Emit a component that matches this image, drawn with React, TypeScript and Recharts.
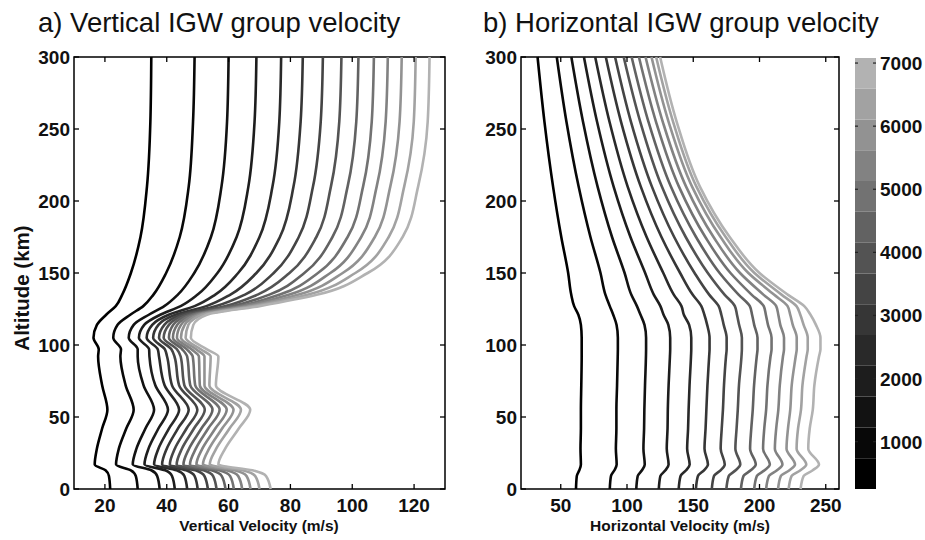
import React from "react";
import { LineChart, Line, XAxis, YAxis, BarChart, Bar, ReferenceArea } from "recharts";

const FONT = "'Liberation Sans', Arial, Helvetica, sans-serif";

// altitude levels (km) shared by every profile
const altitudes = [0, 9, 13, 17, 28, 42, 55, 72, 92, 97, 105, 114, 121, 127, 135, 150, 175, 210, 255, 300];

// a) vertical group velocity (m/s), darkest band first
const vz01 = [21.7, 21.3, 20.2, 16.7, 17.4, 19.1, 20.8, 19.1, 17.8, 18.0, 16.3, 17.4, 20.4, 23.5, 25.6, 28.4, 31.5, 33.6, 34.7, 35];
const vz02 = [30.6, 30.0, 28.4, 23.6, 24.5, 26.9, 29.3, 26.7, 25.0, 25.2, 22.7, 24.1, 28.2, 32.4, 35.7, 39.8, 44.2, 47.1, 48.5, 49];
const vz03 = [37.7, 36.9, 35.0, 29.0, 30.2, 33.1, 35.9, 32.5, 30.6, 30.6, 27.7, 29.3, 34.2, 39.2, 43.6, 48.9, 54.3, 57.7, 59.5, 60];
const vz04 = [42.6, 41.7, 39.5, 32.8, 34.1, 37.3, 40.4, 36.3, 34.4, 34.3, 31.0, 32.7, 37.9, 44.5, 50.0, 56.4, 62.6, 66.4, 68.4, 69];
const vz05 = [46.6, 45.7, 43.2, 35.9, 37.3, 40.7, 44.0, 39.3, 37.5, 37.1, 33.5, 35.3, 40.6, 49.0, 55.7, 63.1, 70.0, 74.2, 76.4, 77];
const vz06 = [50.0, 49.0, 46.3, 38.5, 40.0, 43.6, 47.1, 41.7, 40.1, 39.4, 35.6, 37.3, 42.8, 52.8, 60.6, 69.0, 76.6, 81.0, 83.3, 84];
const vz07 = [53.3, 52.2, 49.3, 41.0, 42.6, 46.4, 49.9, 44.0, 42.5, 41.5, 37.5, 39.2, 44.7, 56.0, 65.3, 74.6, 82.7, 87.3, 89.8, 90.5];
const vz08 = [56.1, 55.0, 51.9, 43.2, 44.9, 48.8, 52.3, 45.7, 44.5, 43.3, 39.0, 40.7, 46.1, 59.0, 69.4, 79.7, 88.4, 93.1, 95.8, 96.5];
const vz09 = [59.0, 57.8, 54.5, 45.4, 47.2, 51.2, 54.8, 47.6, 46.6, 45.0, 40.7, 42.1, 47.5, 61.4, 73.2, 84.5, 93.6, 98.5, 101.3, 102];
const vz10 = [61.7, 60.5, 56.9, 47.5, 49.4, 53.4, 57.1, 49.2, 48.4, 46.5, 42.0, 43.4, 48.6, 63.6, 76.6, 88.9, 98.5, 103.5, 106.3, 107];
const vz11 = [64.4, 63.1, 59.4, 49.6, 51.5, 55.7, 59.4, 50.7, 50.4, 48.0, 43.3, 44.6, 49.7, 65.2, 79.7, 92.9, 102.9, 107.9, 110.8, 111.5];
const vz12 = [67.1, 65.8, 61.9, 51.7, 53.7, 57.9, 61.6, 52.2, 52.2, 49.5, 44.6, 45.8, 50.6, 66.9, 82.7, 96.9, 107.3, 112.3, 115.3, 116];
const vz13 = [70.0, 68.6, 64.5, 53.9, 56.0, 60.3, 64.0, 53.8, 54.2, 51.0, 46.1, 47.0, 51.6, 68.4, 85.8, 101.0, 111.8, 116.8, 119.9, 120.5];
const vz14 = [73.6, 72.1, 67.7, 56.7, 58.9, 63.3, 67.0, 55.9, 56.7, 53.0, 47.8, 48.6, 53.0, 70.0, 88.8, 105.0, 116.3, 121.3, 124.4, 125];

// b) horizontal group velocity (m/s)
const vh01 = [61.5, 62.1, 64.0, 65.2, 64.9, 65.2, 65.2, 65.5, 65.8, 65.8, 65.8, 65.2, 63.3, 60.1, 57.9, 55.6, 50.4, 44.2, 37.7, 32.5];
const vh02 = [87, 87.9, 90.5, 92.2, 91.6, 92.0, 92.0, 92.5, 93.0, 93.1, 93.1, 92.1, 89.6, 87.0, 83.7, 80.0, 72.4, 63.5, 54.3, 47];
const vh03 = [107, 108.1, 111.3, 113.4, 112.4, 112.9, 113.1, 113.6, 114.3, 114.4, 114.4, 113.2, 110.2, 107.5, 103.2, 98.2, 88.7, 77.8, 66.8, 58];
const vh04 = [124, 125.2, 129.0, 131.4, 130.0, 130.6, 130.8, 131.4, 132.4, 132.6, 132.6, 131.2, 127.6, 125.2, 120.2, 113.7, 102.6, 89.9, 77.4, 67.5];
const vh05 = [139, 140.4, 144.6, 147.3, 145.4, 146.1, 146.5, 147.2, 148.3, 148.5, 148.5, 146.9, 142.9, 141.1, 135.3, 127.4, 114.8, 100.5, 86.8, 76];
const vh06 = [152, 153.5, 158.1, 161.1, 158.5, 159.3, 159.9, 160.7, 162.0, 162.3, 162.3, 160.5, 158.4, 156.1, 149.5, 140.1, 126.0, 110.4, 95.5, 84];
const vh07 = [164, 165.6, 170.6, 173.8, 170.7, 171.5, 172.4, 173.2, 174.7, 175.2, 175.2, 173.0, 171.2, 169.2, 162.0, 151.0, 135.6, 118.8, 103.0, 91];
const vh08 = [175, 176.8, 182.0, 185.5, 181.8, 182.7, 183.6, 184.5, 186.4, 186.7, 186.7, 184.6, 183.0, 181.4, 173.6, 161.0, 144.3, 126.3, 110.0, 97.5];
const vh09 = [186, 187.9, 193.4, 197.2, 192.9, 193.8, 194.9, 195.9, 197.9, 198.5, 198.5, 196.0, 194.4, 192.7, 184.2, 169.9, 152.1, 133.1, 116.2, 103.5];
const vh10 = [196, 198.0, 203.8, 207.8, 202.7, 203.6, 205.0, 206.0, 208.3, 209.1, 209.1, 206.4, 204.8, 203.2, 194.0, 178.1, 159.1, 139.2, 121.9, 109];
const vh11 = [205, 207.1, 213.2, 217.3, 211.6, 212.6, 214.2, 215.3, 217.7, 218.5, 218.5, 215.7, 214.2, 212.6, 202.9, 185.3, 165.3, 144.6, 127.0, 114];
const vh12 = [214, 216.1, 222.6, 226.8, 220.4, 221.5, 223.2, 224.3, 227.3, 228.1, 228.1, 225.1, 223.2, 221.2, 210.9, 191.6, 170.6, 149.1, 131.4, 118.5];
const vh13 = [222, 224.2, 230.9, 235.3, 228.0, 229.1, 231.3, 232.4, 235.5, 236.4, 236.4, 233.3, 230.8, 227.9, 216.6, 196.2, 174.5, 152.4, 134.8, 122];
const vh14 = [231, 233.3, 240.2, 244.9, 236.8, 237.9, 240.2, 241.4, 244.9, 246.0, 246.0, 242.6, 238.5, 233.8, 221.3, 200.0, 177.5, 155.0, 137.5, 125];

const verticalProfiles = [vz01, vz02, vz03, vz04, vz05, vz06, vz07, vz08, vz09, vz10, vz11, vz12, vz13, vz14];
const horizontalProfiles = [vh01, vh02, vh03, vh04, vh05, vh06, vh07, vh08, vh09, vh10, vh11, vh12, vh13, vh14];

// colorbar: band heights (bottom band starts below the visible range) and colours
const colorbarBands = [738, 488, 488, 488, 488, 488, 488, 488, 488, 488, 488, 488, 488, 488];
const bandColors = [
  "#000000", "#080808", "#121212", "#1d1d1d", "#292929", "#363636", "#444444",
  "#535353", "#626262", "#727272", "#828282", "#929292", "#a2a2a2", "#b2b2b2",
];
const colorbarTicks = [1000, 2000, 3000, 4000, 5000, 6000, 7000];

const altTicks = [0, 50, 100, 150, 200, 250, 300];
const vTicks = [20, 40, 60, 80, 100, 120];
const hTicks = [50, 100, 150, 200, 250];

const toRows = (profiles: number[][]) =>
  altitudes.map((alt, i) => {
    const row: Record<string, number> = { alt };
    profiles.forEach((p, k) => {
      row[`c${k}`] = p[i];
    });
    return row;
  });

const verticalRows = toRows(verticalProfiles);
const horizontalRows = toRows(horizontalProfiles);

// ticks drawn inside the frame, matlab style
const BottomTick = (props: any) => {
  const { x, y, payload } = props;
  return (
    <g>
      <line x1={x} x2={x} y1={y} y2={y - 5} stroke="#000" strokeWidth={1.3} />
      <text x={x} y={y + 23} textAnchor="middle" fontFamily={FONT} fontWeight="bold" fontSize={19} fill="#111">
        {payload.value}
      </text>
    </g>
  );
};

const LeftTick = (props: any) => {
  const { x, y, payload } = props;
  return (
    <g>
      <line x1={x} x2={x + 5} y1={y} y2={y} stroke="#000" strokeWidth={1.3} />
      <text x={x - 4} y={y + 7} textAnchor="end" fontFamily={FONT} fontWeight="bold" fontSize={19} fill="#111">
        {payload.value}
      </text>
    </g>
  );
};

const TopTick = (props: any) => {
  const { x, y } = props;
  return <line x1={x} x2={x} y1={y} y2={y + 5} stroke="#000" strokeWidth={1.3} />;
};

const RightTick = (props: any) => {
  const { x, y } = props;
  return <line x1={x} x2={x - 5} y1={y} y2={y} stroke="#000" strokeWidth={1.3} />;
};

const ColorbarTick = (props: any) => {
  const { x, y, payload } = props;
  return (
    <g>
      <line x1={x - 21} x2={x - 18} y1={y} y2={y} stroke="#222" strokeWidth={1.2} />
      <line x1={x} x2={x - 3} y1={y} y2={y} stroke="#222" strokeWidth={1.2} />
      <text x={x + 4} y={y + 7} textAnchor="start" fontFamily={FONT} fontWeight="bold" fontSize={19} fill="#111">
        {payload.value}
      </text>
    </g>
  );
};

interface ProfilePanelProps {
  rows: Record<string, number>[];
  domain: [number, number];
  ticks: number[];
  width: number;
  left: number;
}

function ProfilePanel({ rows, domain, ticks, width, left }: ProfilePanelProps) {
  return (
    <div style={{ position: "absolute", left, top: 0 }}>
      <LineChart
        width={width}
        height={540}
        layout="vertical"
        data={rows}
        margin={{ top: 56, right: 20, bottom: 50, left: 0 }}
      >
        <XAxis
          type="number"
          domain={domain}
          ticks={ticks}
          allowDataOverflow
          height={1}
          tickSize={0}
          tickMargin={0}
          tickLine={false}
          axisLine={false}
          tick={<BottomTick />}
          interval={0}
        />
        <XAxis
          xAxisId="top"
          orientation="top"
          type="number"
          domain={domain}
          ticks={ticks}
          allowDataOverflow
          height={1}
          tickSize={0}
          tickMargin={0}
          tickLine={false}
          axisLine={false}
          tick={<TopTick />}
          interval={0}
        />
        <YAxis
          type="number"
          dataKey="alt"
          domain={[0, 300]}
          ticks={altTicks}
          reversed
          width={70}
          tickSize={0}
          tickMargin={0}
          tickLine={false}
          axisLine={false}
          tick={<LeftTick />}
          interval={0}
        />
        <YAxis
          yAxisId="right"
          orientation="right"
          type="number"
          dataKey="alt"
          domain={[0, 300]}
          ticks={altTicks}
          reversed
          width={1}
          tickSize={0}
          tickMargin={0}
          tickLine={false}
          axisLine={false}
          tick={<RightTick />}
          interval={0}
        />
        {bandColors.map((color, k) => (
          <Line
            key={k}
            dataKey={`c${k}`}
            type="monotone"
            stroke={color}
            strokeWidth={2.6}
            dot={false}
            activeDot={false}
            isAnimationActive={false}
          />
        ))}
        <ReferenceArea
          x1={domain[0]}
          x2={domain[1]}
          y1={0}
          y2={300}
          fill="none"
          fillOpacity={0}
          stroke="#000"
          strokeWidth={1.5}
          ifOverflow="visible"
        />
      </LineChart>
    </div>
  );
}

function Colorbar() {
  const row: Record<string, string | number> = { name: "bar" };
  colorbarBands.forEach((v, k) => {
    row[`b${k}`] = v;
  });
  return (
    <div style={{ position: "absolute", left: 840, top: 0 }}>
      <BarChart
        width={85}
        height={540}
        data={[row]}
        barCategoryGap={0}
        margin={{ top: 58, right: 0, bottom: 51, left: 15 }}
      >
        <XAxis dataKey="name" hide />
        <YAxis
          orientation="right"
          type="number"
          domain={[250, 7080]}
          allowDataOverflow
          ticks={colorbarTicks}
          width={49}
          tickSize={0}
          tickMargin={0}
          tickLine={false}
          axisLine={false}
          tick={<ColorbarTick />}
          interval={0}
        />
        {colorbarBands.map((_, k) => (
          <Bar key={k} dataKey={`b${k}`} stackId="cb" fill={bandColors[k]} isAnimationActive={false} />
        ))}
      </BarChart>
    </div>
  );
}

export default function App() {
  return (
    <div style={{ position: "absolute", left: 0, top: 0, width: 925, height: 540, background: "#fff", overflow: "hidden" }}>
      <ProfilePanel rows={verticalRows} domain={[10, 130]} ticks={vTicks} width={462} left={4} />
      <ProfilePanel rows={horizontalRows} domain={[20, 260]} ticks={hTicks} width={409} left={451} />
      <Colorbar />
      <svg width={925} height={540} style={{ position: "absolute", left: 0, top: 0, pointerEvents: "none" }}>
        <text x={38} y={32} fontFamily={FONT} fontSize={27.5} fill="#111">
          a) Vertical IGW group velocity
        </text>
        <text x={483} y={32} fontFamily={FONT} fontSize={27.5} fill="#111">
          b) Horizontal IGW group velocity
        </text>
        <text x={259} y={531} textAnchor="middle" fontFamily={FONT} fontWeight="bold" fontSize={15.5} fill="#111">
          Vertical Velocity (m/s)
        </text>
        <text x={680} y={531} textAnchor="middle" fontFamily={FONT} fontWeight="bold" fontSize={15.5} fill="#111">
          Horizontal Velocity (m/s)
        </text>
        <text
          x={0}
          y={0}
          transform="translate(29 288) rotate(-90)"
          textAnchor="middle"
          fontFamily={FONT}
          fontWeight="bold"
          fontSize={20.5}
          fill="#111"
        >
          Altitude (km)
        </text>
      </svg>
    </div>
  );
}
